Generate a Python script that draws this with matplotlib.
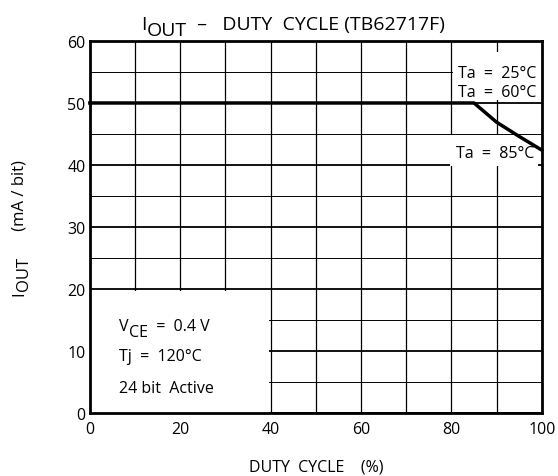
import matplotlib
matplotlib.use("Agg")
import matplotlib.pyplot as plt
from matplotlib.patches import Rectangle

plt.rcParams['font.family'] = ['Open Sans', 'DejaVu Sans']

# curve (all three temperatures share it)
duty = [0, 85, 90, 95, 100]
iout = [50, 50, 46.9, 44.6, 42.4]

x_ticks = [0, 20, 40, 60, 80, 100]
y_ticks = [0, 10, 20, 30, 40, 50, 60]

fig = plt.figure(figsize=(5.58, 4.77), dpi=100)
ax = fig.add_axes([0.161, 0.132, 0.81, 0.78])

ax.set_xlim(0, 100)
ax.set_ylim(0, 60)
ax.set_xticks(x_ticks)
ax.set_yticks(y_ticks)
ax.set_xticks(range(0, 101, 10), minor=True)
ax.set_yticks(range(0, 61, 5), minor=True)
ax.tick_params(which='both', length=0, labelsize=11.5, colors='black')
ax.tick_params(axis='x', pad=6)
ax.tick_params(axis='y', pad=3)

ax.set_axisbelow(True)
ax.grid(True, which='both', axis='x', color='black', lw=0.9)
ax.grid(True, which='minor', axis='y', color='black', lw=0.7)
ax.grid(True, which='major', axis='y', color='black', lw=1.3)
for s in ax.spines.values():
    s.set_linewidth(2)

# white boxes behind the notes hide the grid there
for (x0, y0, w, h) in [(80.3, 50.5, 20, 7.7), (79.6, 39.8, 19.6, 5.0), (0, 0, 39.7, 19.7)]:
    ax.add_patch(Rectangle((x0, y0), w, h, facecolor='white', edgecolor='none', zorder=1))

ax.plot(duty, iout, color='black', lw=2.5, zorder=3, clip_on=False)

fs = 11.5
ax.text(81.4, 54.9, "Ta  =  25°C", fontsize=fs, va='center', zorder=4)
ax.text(81.4, 51.8, "Ta  =  60°C", fontsize=fs, va='center', zorder=4)
ax.text(81.0, 42.0, "Ta  =  85°C", fontsize=fs, va='center', zorder=4)

v = ax.text(6.4, 12.7, "V", fontsize=fs, va='bottom', zorder=4)
ce = ax.annotate("CE", xy=(1, 0), xycoords=v, xytext=(0.3, -4), textcoords='offset points',
                 fontsize=fs, va='bottom', zorder=4)
ax.annotate("  =  0.4 V", xy=(1, 0), xycoords=ce, xytext=(0, 4), textcoords='offset points',
            fontsize=fs, va='bottom', zorder=4)
ax.text(6.4, 9.2, "Tj  =  120°C", fontsize=fs, va='center', zorder=4)
ax.text(6.4, 4.0, "24 bit  Active", fontsize=fs, va='center', zorder=4)

ax.set_xlabel("DUTY  CYCLE    (%)", fontsize=11.5, labelpad=15)

# title: I with lowered OUT
t1 = fig.text(141 / 558, 1 - 34 / 477, "I", fontsize=14, va='bottom')
t2 = ax.annotate("OUT", xy=(1, 0), xycoords=t1, xytext=(0.5, -4), textcoords='offset points',
                 fontsize=14, va='bottom', annotation_clip=False)
ax.annotate("  –   DUTY  CYCLE (TB62717F)", xy=(1, 0), xycoords=t2, xytext=(0, 4),
            textcoords='offset points', fontsize=14, va='bottom', annotation_clip=False)

# y label, rotated, same idea (text "up" points to the left on screen)
yfs = 12
y1 = fig.text(11 / 558, 1 - 296 / 477, "I", fontsize=yfs, rotation=90,
              rotation_mode='anchor', ha='left', va='top')
y2 = ax.annotate("OUT", xy=(0, 1), xycoords=y1, xytext=(3.5, 0.3), textcoords='offset points',
                 fontsize=yfs, rotation=90, rotation_mode='anchor', ha='left', va='top',
                 annotation_clip=False)
ax.annotate("      (mA / bit)", xy=(0, 1), xycoords=y2, xytext=(-3.5, 0), textcoords='offset points',
            fontsize=yfs, rotation=90, rotation_mode='anchor', ha='left', va='top',
            annotation_clip=False)

fig.savefig("out.png", dpi=100)
